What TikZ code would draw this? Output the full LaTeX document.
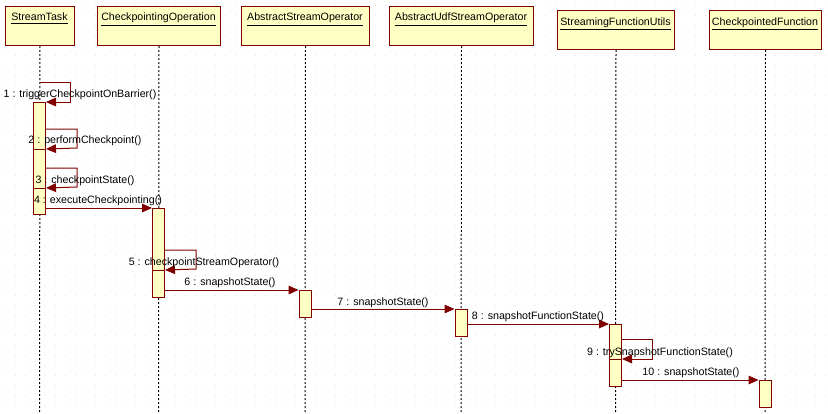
\documentclass[tikz,border=0pt]{standalone}
\usepackage{fontspec}
\setmainfont{Liberation Sans}
\usetikzlibrary{arrows.meta}
\definecolor{fillY}{RGB}{255,255,195}
\definecolor{dred}{RGB}{128,0,0}
\definecolor{gridc}{RGB}{226,226,234}
\begin{document}
\begin{tikzpicture}[x=0.75pt,y=-0.75pt,
  font=\fontsize{8}{10}\selectfont,
  obj/.style={draw=dred, fill=fillY, line width=0.75pt, inner sep=0pt, anchor=north west},
  act/.style={draw=dred, fill=fillY, line width=0.75pt, inner sep=0pt, anchor=north, minimum width=12*0.75pt},
  life/.style={line width=0.75pt, dash pattern=on 1.5pt off 1.5pt},
  msg/.style={draw=dred, line width=0.75pt, -{Triangle[length=7.5pt,width=6.5pt]}},
  lbl/.style={inner sep=0pt, anchor=base},
  ttl/.style={inner sep=0pt, anchor=base}]
\useasboundingbox (0,0) rectangle (828,414);
\fill[white] (0,0) rectangle (828,414);
\foreach \yy in {5,15,...,405}
  \draw[gridc, line width=0.75pt, dash pattern=on 0.75pt off 6.75pt] (4.5,\yy) -- (828,\yy);

% objects
\node[obj, minimum width=69*0.75pt, minimum height=39*0.75pt] (st) at (5,6) {};
\node[obj, minimum width=123*0.75pt, minimum height=39*0.75pt] (co) at (97,6) {};
\node[obj, minimum width=128*0.75pt, minimum height=39*0.75pt] (aso) at (241,6) {};
\node[obj, minimum width=144*0.75pt, minimum height=39*0.75pt] (auso) at (389,6) {};
\node[obj, minimum width=117*0.75pt, minimum height=39*0.75pt] (sfu) at (557,10) {};
\node[obj, minimum width=112*0.75pt, minimum height=39*0.75pt] (cf) at (709,10) {};

\node[ttl] (tst) at (39.5,21) {\underline{StreamTask}};
\node[ttl] (tco) at (158.5,21) {\underline{CheckpointingOperation}};
\node[ttl] (taso) at (305,21) {\underline{AbstractStreamOperator}};
\node[ttl] (tauso) at (461,21) {\underline{AbstractUdfStreamOperator}};
\node[ttl] (tsfu) at (615.5,25) {\underline{StreamingFunctionUtils}};
\node[ttl] (tcf) at (765,25) {\underline{CheckpointedFunction}};

% lifeline ends
\coordinate (est) at (39.5,414);
\coordinate (eco) at (158.5,414);
\coordinate (easo) at (305,414);
\coordinate (eauso) at (461,414);
\coordinate (esfu) at (615.5,414);
\coordinate (ecf) at (765,414);
\draw[life] (st.south) -- (est);
\draw[life] (co.south) -- (eco);
\draw[life] (aso.south) -- (easo);
\draw[life] (auso.south) -- (eauso);
\draw[life] (sfu.south) -- (esfu);
\draw[life] (cf.south) -- (ecf);

% activations
\node[act, minimum height=88*0.75pt] (a1) at (39.5,102) {};
\node[act, minimum height=41*0.75pt] (a2) at (39.5,149) {};
\node[act, minimum height=26*0.75pt] (a3) at (39.5,188) {};
\node[act, minimum height=67*0.75pt] (b1) at (158.5,208) {};
\node[act, minimum height=27*0.75pt] (b2) at (158.5,270) {};
\node[act, minimum height=27*0.75pt] (c1) at (305,290) {};
\node[act, minimum height=27*0.75pt] (d1) at (461,309) {};
\node[act, minimum height=41*0.75pt] (e1) at (615.5,324) {};
\node[act, minimum height=27*0.75pt] (e2) at (615.5,359) {};
\node[act, minimum height=27*0.75pt] (f1) at (765,380) {};

% message rows
\coordinate (m1) at (0,82);
\coordinate (m2) at (0,129);
\coordinate (m3) at (0,168);
\coordinate (m4) at (0,208);
\coordinate (m5) at (0,250);
\coordinate (m6) at (0,290);
\coordinate (m7) at (0,309);
\coordinate (m8) at (0,324);
\coordinate (m9) at (0,339);
\coordinate (m10) at (0,380);

\draw[msg] (st.south |- m1) -- (70,82) -- (70,102) -- (a1.north east);
\draw[msg] (a1.east |- m2) -- (77,129) -- (77,148) -- (a2.north east);
\draw[msg] (a2.east |- m3) -- (77,168) -- (77,187) -- (a3.north east);
\draw[msg] (a3.east |- m4) -- (b1.north west);
\draw[msg] (b1.east |- m5) -- (196,250) -- (196,269) -- (b2.north east);
\draw[msg] (b2.east |- m6) -- (c1.north west);
\draw[msg] (c1.east |- m7) -- (d1.north west);
\draw[msg] (d1.east |- m8) -- (e1.north west);
\draw[msg] (e1.east |- m9) -- (652,339) -- (652,359) -- (e2.north east);
\draw[msg] (e2.east |- m10) -- (f1.north west);

% labels
\node[lbl] (l1) at (80,97) {1 : triggerCheckpointOnBarrier()};
\node[lbl] (l2) at (85,143) {2 : performCheckpoint()};
\node[lbl] (l3) at (85,183) {3 : checkpointState()};
\node[lbl] (l4) at (98,203) {4 : executeCheckpointing()};
\node[lbl] (l5) at (204,265) {5 : checkpointStreamOperator()};
\node[lbl] (l6) at (230,285) {6 : snapshotState()};
\node[lbl] (l7) at (383,305) {7 : snapshotState()};
\node[lbl] (l8) at (538,319) {8 : snapshotFunctionState()};
\node[lbl] (l9) at (660,355) {9 : trySnapshotFunctionState()};
\node[lbl] (l10) at (691,375) {10 : snapshotState()};
\end{tikzpicture}
\end{document}
